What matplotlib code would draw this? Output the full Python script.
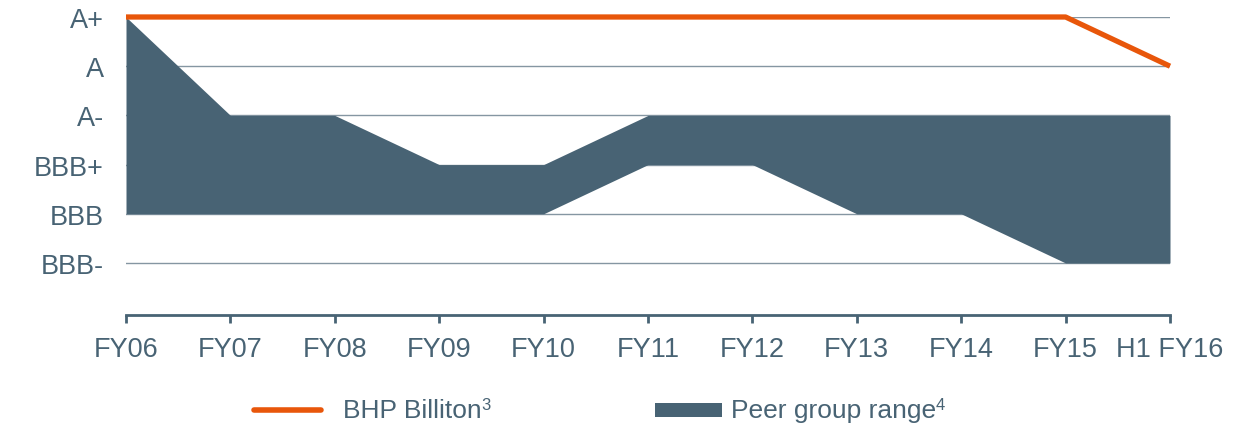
import matplotlib.pyplot as plt
from matplotlib.lines import Line2D
from matplotlib.patches import Rectangle

periods = ["FY06", "FY07", "FY08", "FY09", "FY10", "FY11", "FY12", "FY13", "FY14", "FY15", "H1 FY16"]
ratings = ["BBB-", "BBB", "BBB+", "A-", "A", "A+"]
rating_levels = [1, 2, 3, 4, 5, 6]

# rating index: BBB-=1 ... A+=6
bhp = [6, 6, 6, 6, 6, 6, 6, 6, 6, 6, 5]
peer_high = [6, 4, 4, 3, 3, 4, 4, 4, 4, 4, 4]
peer_low = [2, 2, 2, 2, 2, 3, 3, 2, 2, 1, 1]

dark = "#486374"
orange = "#E8560A"
grid_col = "#8596a2"

plt.rcParams["font.family"] = ["Liberation Sans", "DejaVu Sans"]

W, H = 1253, 431
fig = plt.figure(figsize=(W / 100, H / 100), dpi=100)
ax = fig.add_axes([126 / W, 1 - 316 / H, (1170 - 126) / W, (316 - 18) / H])

x = list(range(len(periods)))
for lvl in rating_levels:
    ax.axhline(lvl, color=grid_col, lw=1.0, zorder=1)
ax.fill_between(x, peer_low, peer_high, color=dark, lw=0, zorder=2)
ax.plot(x, bhp, color=orange, lw=3.8, solid_capstyle="butt", zorder=3, clip_on=False)

ax.set_xlim(0, len(periods) - 1)
ax.set_ylim(1 - 52 / 49.2, 6)
ax.set_xticks(x)
ax.set_xticklabels(periods, fontsize=19.5, color=dark)
ax.set_yticks(rating_levels)
ax.set_yticklabels(ratings, fontsize=19.5, color=dark)
ax.tick_params(axis="x", direction="out", length=6, width=2, color=dark, pad=9)
ax.tick_params(axis="y", length=0, pad=16)
for side in ["top", "right", "left"]:
    ax.spines[side].set_visible(False)
ax.spines["bottom"].set_color(dark)
ax.spines["bottom"].set_linewidth(2)

# legend drawn by hand so it sits where the reference has it
leg_y = 1 - 411 / H
fig.add_artist(Line2D([254 / W, 321 / W], [leg_y, leg_y], color=orange, lw=4,
                      solid_capstyle="round", transform=fig.transFigure))
fig.add_artist(Rectangle((655 / W, 1 - 418 / H), 67 / W, 14 / H, facecolor=dark,
                         edgecolor="none", transform=fig.transFigure))
labels = [("BHP Billiton", "3", 343), ("Peer group range", "4", 731)]
for text, sup, px in labels:
    t = fig.text(px / W, leg_y, text, fontsize=19, color=dark, va="center", ha="left")
    fig.canvas.draw()
    ax.annotate(sup, xy=(1, 0.72), xycoords=t, fontsize=12, color=dark,
                ha="left", va="center", annotation_clip=False)

fig.savefig("out.png", dpi=100)
